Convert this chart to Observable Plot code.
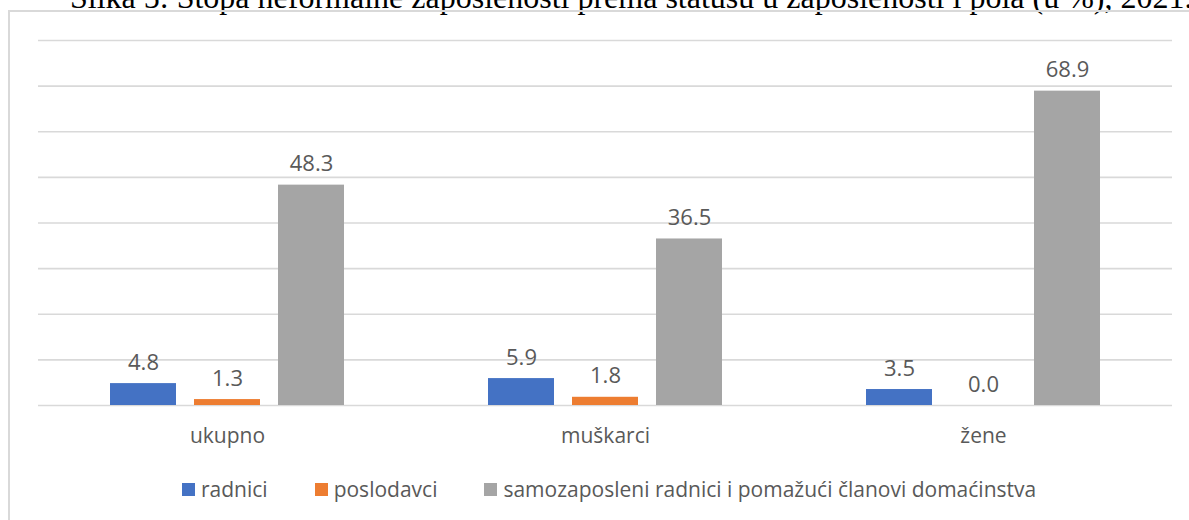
<!DOCTYPE html>
<html>
<head>
<meta charset="utf-8">
<script src="https://cdn.jsdelivr.net/npm/d3@7"></script>
<script src="https://cdn.jsdelivr.net/npm/@observablehq/plot@0.6"></script>
<style>
  html, body { margin: 0; padding: 0; background: #fff; }
  #wrap { position: relative; width: 1189px; height: 520px; overflow: hidden; background: #fff; }
  #title { position: absolute; left: 70px; top: -19px; white-space: nowrap; font-family: "Liberation Serif", "Times New Roman", serif; font-size: 32px; line-height: 1; color: #000; }
  #box { position: absolute; left: 8px; top: 10px; width: 1300px; height: 600px; border: 2px solid #d9d9d9; box-sizing: border-box; }
  #chart { position: absolute; left: 0; top: 0; }
  #legend { position: absolute; left: 182px; top: 475px; display: flex; align-items: center; gap: 47px; font-family: "Open Sans", sans-serif; font-size: 21px; color: #595959; white-space: nowrap; }
  #legend .item { display: flex; align-items: center; gap: 6px; }
  #legend .sw { width: 13px; height: 13px; display: inline-block; }
</style>
</head>
<body>
<div id="wrap">
  <div id="title">Slika 5: Stopa neformalne zaposlenosti prema statusu u zaposlenosti i pola (u %), 2021.</div>
  <div id="box"></div>
  <div id="chart"></div>
  <div id="legend"></div>
</div>
<script>
const categories = ["ukupno", "muškarci", "žene"];
const seriesNames = ["radnici", "poslodavci", "samozaposleni radnici i pomažući članovi domaćinstva"];
const radnici = [4.8, 5.9, 3.5];
const poslodavci = [1.3, 1.8, 0.0];
const samozaposleni = [48.3, 36.5, 68.9];
const colors = ["#4472C4", "#ED7D31", "#A5A5A5"];
const yTicks = [0, 10, 20, 30, 40, 50, 60, 70, 80];

const seriesValues = [radnici, poslodavci, samozaposleni];
const data = [];
categories.forEach((c, i) => {
  seriesNames.forEach((s, j) => {
    data.push({cat: c, series: s, value: seriesValues[j][i]});
  });
});

const chart = Plot.plot({
  width: 1189,
  height: 460,
  marginLeft: 38,
  marginRight: 17,
  marginTop: 40,
  marginBottom: 55,
  style: {background: "transparent", fontFamily: "'Open Sans', sans-serif"},
  fx: {domain: categories, padding: 0, label: null},
  x: {domain: seriesNames, paddingInner: 0.214, paddingOuter: 0.857, axis: null},
  y: {domain: [0, 80], axis: null},
  color: {domain: seriesNames, range: colors},
  marks: [
    Plot.ruleY(yTicks, {stroke: "#d9d9d9", strokeWidth: 1.6}),
    Plot.barY(data, {fx: "cat", x: "series", y: "value", fill: "series", inset: 0}),
    Plot.text(data, {fx: "cat", x: "series", y: "value", text: d => d.value.toFixed(1), dy: -14, lineAnchor: "bottom", fill: "#595959", fontSize: 22}),
    Plot.axisFx({anchor: "bottom", tickSize: 0, tickPadding: 23, fontSize: 21, fill: "#595959", label: null})
  ]
});
document.getElementById("chart").appendChild(chart);

const legend = document.getElementById("legend");
seriesNames.forEach((s, j) => {
  const item = document.createElement("div");
  item.className = "item";
  const sw = document.createElement("span");
  sw.className = "sw";
  sw.style.background = colors[j];
  const label = document.createElement("span");
  label.textContent = s;
  item.appendChild(sw);
  item.appendChild(label);
  legend.appendChild(item);
});
</script>
</body>
</html>
